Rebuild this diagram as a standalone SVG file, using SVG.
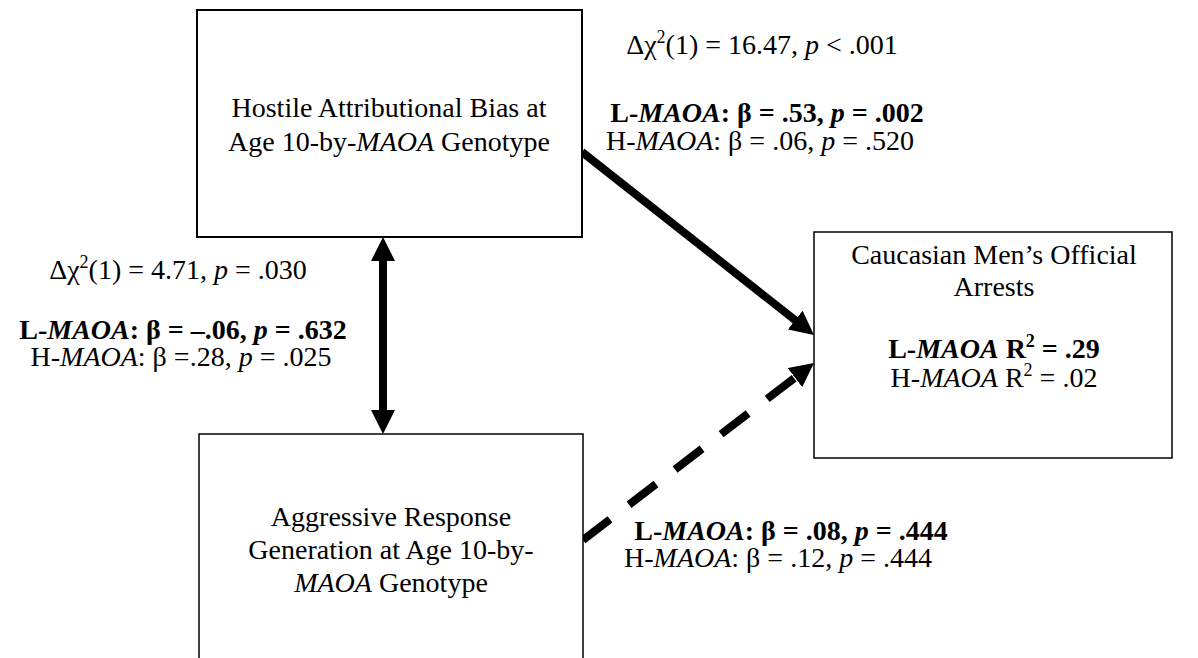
<svg xmlns="http://www.w3.org/2000/svg" width="1198" height="658" viewBox="0 0 1198 658">
<style>
text{font-family:"Liberation Serif","Times New Roman",serif;font-size:28px;fill:#000}
.c{text-anchor:middle}
.b{font-weight:bold}
.i{font-style:italic}
.box{fill:#fff;stroke:#000}
.conn{stroke:#000;stroke-width:8;fill:none}
</style>
<defs>
<marker id="ah" viewBox="0 0 24 24" refX="4" refY="12" markerWidth="24" markerHeight="24" markerUnits="userSpaceOnUse" orient="auto-start-reverse">
<path d="M0,0 L24,12 L0,24 Z" fill="#000"/>
</marker>
</defs>
<rect width="1198" height="658" fill="#fff"/>
<g id="connectors">
<line class="conn" x1="383" y1="257" x2="383" y2="414" marker-start="url(#ah)" marker-end="url(#ah)"/>
<line class="conn" x1="582" y1="152" x2="798.3" y2="322.6" marker-end="url(#ah)"/>
<line class="conn" x1="583" y1="540" x2="798.1" y2="375.2" stroke-dasharray="34 24" marker-end="url(#ah)"/>
</g>
<g id="hostile">
<rect class="box" x="197" y="10" width="385" height="227" stroke-width="2"/>
<text class="c" x="389" y="117">Hostile Attributional Bias at</text>
<text class="c" x="389" y="151">Age 10-by-<tspan class="i">MAOA</tspan> Genotype</text>
</g>
<g id="aggressive">
<rect class="box" x="199" y="434" width="384" height="240" stroke-width="1.5"/>
<text class="c" x="391" y="526">Aggressive Response</text>
<text class="c" x="391" y="559">Generation at Age 10-by-</text>
<text class="c" x="391" y="592"><tspan class="i">MAOA</tspan> Genotype</text>
</g>
<g id="arrests">
<rect class="box" x="814" y="232" width="358" height="226" stroke-width="1.5"/>
<text class="c" x="994" y="264">Caucasian Men’s Official</text>
<text class="c" x="994" y="296">Arrests</text>
<text class="c b" x="994" y="358">L-<tspan class="i">MAOA</tspan> R<tspan dy="-11" font-size="18">2</tspan><tspan dy="11"> = .29</tspan></text>
<text class="c" x="994" y="387">H-<tspan class="i">MAOA</tspan> R<tspan dy="-11" font-size="18">2</tspan><tspan dy="11"> = .02</tspan></text>
</g>
<g id="labels">
<text class="c" x="762" y="54">Δχ<tspan dy="-11" font-size="18">2</tspan><tspan dy="11">(1) = 16.47, </tspan><tspan class="i">p</tspan> &lt; .001</text>
<text class="c b" x="767" y="122">L-<tspan class="i">MAOA</tspan>: β = .53, <tspan class="i">p</tspan> = .002</text>
<text class="c" x="760" y="150">H-<tspan class="i">MAOA</tspan>: β = .06, <tspan class="i">p</tspan> = .520</text>
<text class="c" x="178" y="279">Δχ<tspan dy="-11" font-size="18">2</tspan><tspan dy="11">(1) = 4.71, </tspan><tspan class="i">p</tspan> = .030</text>
<text class="c b" x="183" y="339">L-<tspan class="i">MAOA</tspan>: β = –.06, <tspan class="i">p</tspan> = .632</text>
<text class="c" x="181" y="366">H-<tspan class="i">MAOA</tspan>: β =.28, <tspan class="i">p</tspan> = .025</text>
<text class="c b" x="791" y="540">L-<tspan class="i">MAOA</tspan>: β = .08, <tspan class="i">p</tspan> = .444</text>
<text class="c" x="778" y="567">H-<tspan class="i">MAOA</tspan>: β = .12, <tspan class="i">p</tspan> = .444</text>
</g>
</svg>
